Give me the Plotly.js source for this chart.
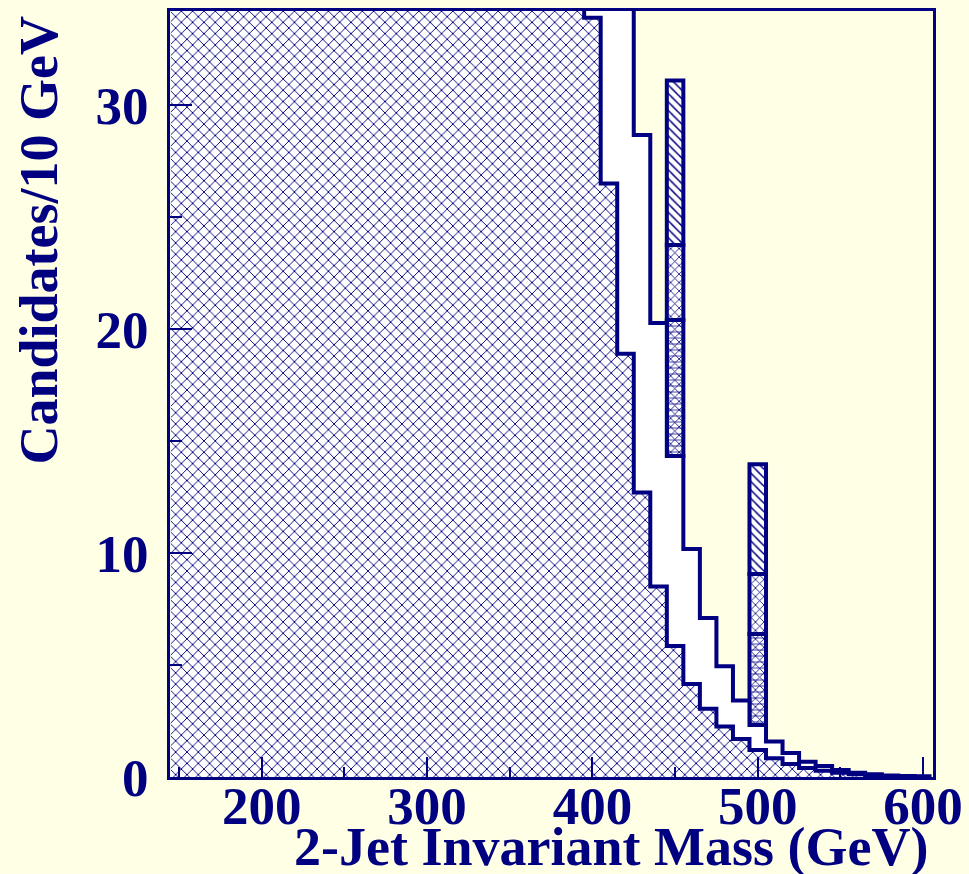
<!DOCTYPE html>
<html>
<head>
<meta charset="utf-8">
<script src="https://cdn.plot.ly/plotly-3.0.1.min.js"></script>
<style>
  html, body { margin: 0; padding: 0; background: #FFFFE6; }
  #chart { width: 969px; height: 874px; }
</style>
</head>
<body>
<div id="chart"></div>
<script>
// 10 GeV bins, labelled by their centres
const binCenters = [150, 160, 170, 180, 190, 200, 210, 220, 230, 240,
                    250, 260, 270, 280, 290, 300, 310, 320, 330, 340,
                    350, 360, 370, 380, 390, 400, 410, 420, 430, 440,
                    450, 460, 470, 480, 490, 500, 510, 520, 530, 540,
                    550, 560, 570, 580, 590, 600];

// QCD background (cross-hatched), candidates per 10 GeV
const qcdCounts = [2400, 2050, 1750, 1480, 1250, 1060, 900, 760, 640, 540,
                   455, 385, 325, 272, 228, 190, 158, 131, 108, 89,
                   73, 60, 49, 42, 36.5, 33.9, 26.5, 18.9, 12.7, 8.5,
                   5.85, 4.15, 3.05, 2.25, 1.70, 1.20, 0.84, 0.58, 0.40, 0.28,
                   0.19, 0.12, 0.08, 0.05, 0.03, 0.02];

// Total expected background (open histogram outline)
const totalCounts = [2600, 2230, 1900, 1610, 1370, 1160, 990, 840, 710, 600,
                     505, 430, 362, 305, 256, 214, 178, 148, 122, 101,
                     84, 69, 58, 50, 44, 40, 37, 35.5, 28.66, 20.27,
                     14.33, 10.18, 7.1, 4.95, 3.42, 2.32, 1.58, 1.07, 0.68, 0.49,
                     0.31, 0.19, 0.12, 0.07, 0.04, 0.02];

// Resonance signals stacked on top of the background
const signalMass = [450, 500];
const signalLow  = [6.07, 4.06];   // densely hatched part
const signalMid  = [3.35, 2.68];   // cross-hatched part
const signalHigh = [7.35, 4.90];   // diagonal-hatched part

const xTicks = [200, 300, 400, 500, 600];
const yTicks = [0, 10, 20, 30];

const NAVY = '#000080';
const CREAM = '#FFFFE6';
const BIN = 10;

// step-histogram vertices: left edges plus the final right edge
function stepXY(counts) {
  const xs = binCenters.map(c => c - BIN / 2);
  const ys = counts.slice();
  xs.push(binCenters[binCenters.length - 1] + BIN / 2);
  ys.push(counts[counts.length - 1]);
  return { x: xs, y: ys };
}

const totStep = stepXY(totalCounts);
const qcdStep = stepXY(qcdCounts);

const traces = [];

traces.push({
  type: 'scatter', mode: 'lines',
  x: totStep.x, y: totStep.y,
  line: { shape: 'hv', color: NAVY, width: 4 },
  fill: 'tozeroy', fillcolor: '#FFFFFF',
  hoverinfo: 'skip', showlegend: false
});

traces.push({
  type: 'scatter', mode: 'lines',
  x: qcdStep.x, y: qcdStep.y,
  line: { shape: 'hv', color: NAVY, width: 4 },
  fill: 'tozeroy', fillcolor: '#FFFFFF',
  fillpattern: { shape: 'x', fgcolor: NAVY, bgcolor: '#FFFFFF', size: 8, solidity: 0.22 },
  hoverinfo: 'skip', showlegend: false
});

// signal boxes
const sigBase = signalMass.map(m => totalCounts[binCenters.indexOf(m)]);
const midBase = sigBase.map((b, i) => b + signalLow[i]);
const highBase = midBase.map((b, i) => b + signalMid[i]);

function sigBar(vals, bases, shape, size, bg, lineW, solidity) {
  return {
    type: 'bar', x: signalMass, y: vals, base: bases, width: BIN,
    marker: {
      color: bg,
      line: { color: NAVY, width: lineW },
      pattern: { shape: shape, fgcolor: NAVY, bgcolor: bg, size: size, solidity: solidity }
    },
    hoverinfo: 'skip', showlegend: false
  };
}

traces.push(sigBar(signalLow, sigBase, 'x', 6, '#FFFFFF', 0, 0.25));
traces.push(sigBar(signalLow, sigBase, '-', 6, 'rgba(0,0,0,0)', 4, 0.12));
traces.push(sigBar(signalMid, midBase, 'x', 6, '#FFFFFF', 4, 0.25));
traces.push(sigBar(signalHigh, highBase, '\\', 6, '#FFFFFF', 4, 0.25));

const tickFont = { family: 'Liberation Serif, Times New Roman, serif', size: 53, color: NAVY, weight: 'bold' };
const titleFont = { family: 'Liberation Serif, Times New Roman, serif', size: 54, color: NAVY, weight: 'bold' };

const layout = {
  width: 969, height: 874,
  margin: { l: 170, r: 36, t: 11, b: 97 },
  paper_bgcolor: CREAM, plot_bgcolor: CREAM,
  barmode: 'overlay',
  xaxis: {
    range: [144.5, 606],
    tickmode: 'array', tickvals: xTicks, ticktext: xTicks.map(String),
    ticks: 'inside', ticklen: 20, tickwidth: 2, tickcolor: NAVY,
    minor: { dtick: 50, tick0: 0, ticks: 'inside', ticklen: 10, tickwidth: 2, tickcolor: NAVY },
    showline: true, linecolor: NAVY, linewidth: 3, mirror: true,
    showgrid: false, zeroline: false,
    ticklabelstandoff: -20,
    tickfont: tickFont
  },
  yaxis: {
    range: [0, 34.2],
    tickmode: 'array', tickvals: yTicks, ticktext: yTicks.map(String),
    ticks: 'inside', ticklen: 22, tickwidth: 2, tickcolor: NAVY,
    minor: { dtick: 5, tick0: 0, ticks: 'inside', ticklen: 12, tickwidth: 2, tickcolor: NAVY },
    showline: true, linecolor: NAVY, linewidth: 3, mirror: true,
    showgrid: false, zeroline: false,
    ticklabelstandoff: 8,
    tickfont: tickFont
  },
  annotations: [
    {
      text: '2-Jet Invariant Mass (GeV)', showarrow: false,
      xref: 'paper', yref: 'paper', x: 0.996, y: -0.092,
      xanchor: 'right', yanchor: 'middle',
      font: titleFont
    },
    {
      text: 'Candidates/10 GeV', showarrow: false, textangle: -90,
      xref: 'paper', yref: 'paper', x: -0.172, y: 0.997,
      xanchor: 'center', yanchor: 'top',
      font: titleFont
    }
  ]
};

Plotly.newPlot('chart', traces, layout, { staticPlot: true });
</script>
</body>
</html>
